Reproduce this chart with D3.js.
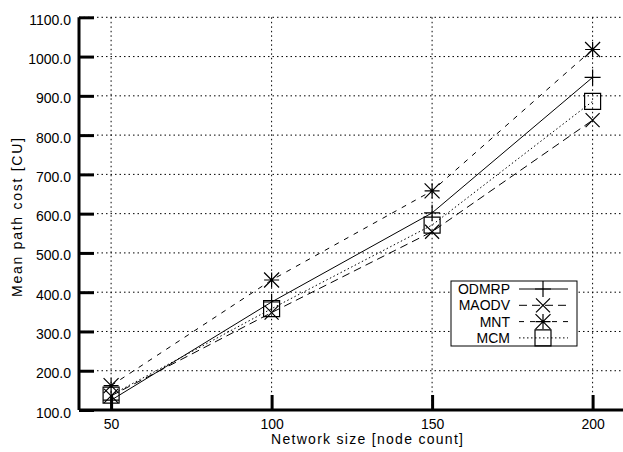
<!DOCTYPE html>
<html>
<head>
<meta charset="utf-8">
<script src="https://cdn.jsdelivr.net/npm/d3@7"></script>
<style>
  html, body { margin: 0; padding: 0; background: #fff; }
  svg { display: block; font-family: "Liberation Sans", Arial, Helvetica, sans-serif; }
</style>
</head>
<body>
<svg id="chart" width="623" height="452"></svg>
<script>
// Network sizes (x) and mean path cost per protocol
const nodeCounts = [50, 100, 150, 200];
const odmrp = [125, 375, 602, 947];
const maodv = [136, 348, 554, 838];
const mnt   = [162, 431, 658, 1018];
const mcm   = [138, 358, 571, 886];

const seriesNames = ["ODMRP", "MAODV", "MNT", "MCM"];
const yTicks = [100, 200, 300, 400, 500, 600, 700, 800, 900, 1000, 1100];
const xTicks = [50, 100, 150, 200];

const series = [
  { name: seriesNames[0], values: odmrp, dash: null,    marker: "plus" },
  { name: seriesNames[1], values: maodv, dash: "8,5",   marker: "cross" },
  { name: seriesNames[2], values: mnt,   dash: "5,6",   marker: "star" },
  { name: seriesNames[3], values: mcm,   dash: "1.5,2.5", marker: "square" }
];

const FONT = "14px";
const svg = d3.select("#chart");
const x = d3.scaleLinear().domain([40, 210]).range([79, 624.7]);
const y = d3.scaleLinear().domain([100, 1100]).range([410, 17.3]);

// dotted grid
const grid = svg.append("g").attr("stroke", "#000").attr("stroke-width", 1)
  .attr("stroke-dasharray", "1.5,3").attr("fill", "none");
yTicks.forEach(v => {
  grid.append("line").attr("x1", x(40)).attr("x2", 623).attr("y1", y(v)).attr("y2", y(v));
});
xTicks.forEach(v => {
  grid.append("line").attr("x1", x(v)).attr("x2", x(v)).attr("y1", y(1100)).attr("y2", y(100));
});

// axes (thick, ticks pointing inward)
const yAxis = d3.axisLeft(y).tickValues(yTicks).tickFormat(d3.format(".1f")).tickSizeInner(-15).tickSizeOuter(0);
const gy = svg.append("g").attr("transform", `translate(${x(40)},0)`).call(yAxis);
const xAxis = d3.axisBottom(x).tickValues(xTicks).tickFormat(d3.format("d")).tickSizeInner(-15).tickSizeOuter(0);
const gx = svg.append("g").attr("transform", `translate(0,${y(100)})`).call(xAxis);

[gx, gy].forEach(g => {
  g.select(".domain").attr("stroke", "#000").attr("stroke-width", 3);
  g.selectAll(".tick line").attr("stroke", "#000").attr("stroke-width", 3);
  g.selectAll(".tick text").attr("fill", "#000").style("font-size", FONT)
    .style("font-family", "'Liberation Sans', Arial, sans-serif");
});
gy.select(".domain").attr("d", `M0,${y(100)}V${y(1100)}`);
gx.select(".domain").attr("d", `M${x(40)},0H623`);
gy.selectAll(".tick text").attr("x", -8).attr("dy", "0.5em");
gx.selectAll(".tick text").attr("y", 9).attr("dy", "0.71em");

// axis titles (slightly letter-spaced)
svg.append("text").attr("x", 271).attr("y", 444)
  .attr("textLength", 192).attr("lengthAdjust", "spacing")
  .style("font-size", FONT).text("Network size [node count]");
svg.append("text").attr("transform", "translate(22,297) rotate(-90)")
  .attr("textLength", 159).attr("lengthAdjust", "spacing")
  .style("font-size", FONT).text("Mean path cost [CU]");

// marker shapes
function markerPath(type, h) {
  switch (type) {
    case "plus":  return `M${-h},0H${h}M0,${-h}V${h}`;
    case "cross": return `M${-h},${-h}L${h},${h}M${-h},${h}L${h},${-h}`;
    case "star":  return `M${-h},0H${h}M0,${-h}V${h}M${-h},${-h}L${h},${h}M${-h},${h}L${h},${-h}`;
    case "square": return `M${-h},${-h}H${h}V${h}H${-h}Z`;
  }
}
const markerSize = { plus: 8, cross: 7, star: 7.5, square: 8 };

const line = d3.line().x((d, i) => x(nodeCounts[i])).y(d => y(d));
const plot = svg.append("g");
series.forEach(s => {
  plot.append("path").datum(s.values).attr("d", line)
    .attr("fill", "none").attr("stroke", "#000").attr("stroke-width", 1)
    .attr("stroke-dasharray", s.dash);
  plot.selectAll(null).data(s.values).enter().append("path")
    .attr("transform", (d, i) => `translate(${x(nodeCounts[i])},${y(d)})`)
    .attr("d", markerPath(s.marker, markerSize[s.marker]))
    .attr("fill", "none").attr("stroke", "#000").attr("stroke-width", 1.2);
});

// legend
const leg = svg.append("g");
leg.append("rect").attr("x", 451).attr("y", 281).attr("width", 126).attr("height", 65)
  .attr("fill", "#fff").attr("stroke", "#000").attr("stroke-width", 1);
series.forEach((s, i) => {
  const cy = 289 + i * 16.3;
  leg.append("text").attr("x", 510).attr("y", cy).attr("dy", "0.36em").attr("text-anchor", "end")
    .style("font-size", FONT).text(s.name);
  leg.append("line").attr("x1", 519).attr("x2", 568).attr("y1", cy).attr("y2", cy)
    .attr("stroke", "#000").attr("stroke-width", 1).attr("stroke-dasharray", s.dash);
  leg.append("path").attr("transform", `translate(543,${cy})`)
    .attr("d", markerPath(s.marker, markerSize[s.marker]))
    .attr("fill", "none").attr("stroke", "#000").attr("stroke-width", 1.2);
});
</script>
</body>
</html>
